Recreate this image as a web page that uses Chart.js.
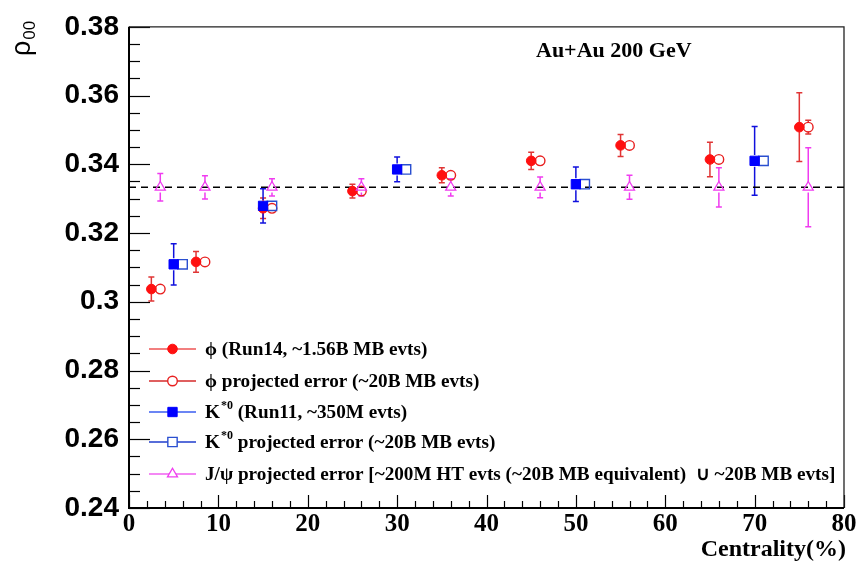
<!DOCTYPE html>
<html>
<head>
<meta charset="utf-8">
<script src="https://cdn.jsdelivr.net/npm/chart.js@4.4.1/dist/chart.umd.min.js"></script>
<style>
  html, body { margin: 0; padding: 0; background: #fff; }
  #wrap { width: 864px; height: 573px; position: relative; }
</style>
</head>
<body>
<div id="wrap"><canvas id="c" width="864" height="573"></canvas></div>
<script>
// ---- rho00 vs centrality, Au+Au 200 GeV ----

// phi meson, Run14 measurement
const phiCent = [2.5, 7.5, 15, 25, 35, 45, 55, 65, 75];
const phiRho  = [0.3037, 0.3116, 0.3272, 0.3322, 0.3368, 0.3410, 0.3455, 0.3414, 0.3508];
const phiErr  = [0.0035, 0.0030, 0.0030, 0.0020, 0.0022, 0.0025, 0.0032, 0.0050, 0.0100];

// phi meson, projected errors (same central values, shifted by 1%)
const phiProjCent = [3.5, 8.5, 16, 26, 36, 46, 56, 66, 76];
const phiProjRho  = [0.3037, 0.3116, 0.3272, 0.3322, 0.3368, 0.3410, 0.3455, 0.3414, 0.3508];
const phiProjErr  = [0.0008, 0.0008, 0.0010, 0.0008, 0.0008, 0.0008, 0.0009, 0.0010, 0.0020];

// K*0, Run11 measurement
const kCent = [5, 15, 30, 50, 70];
const kRho  = [0.3109, 0.3279, 0.3385, 0.3342, 0.3410];
const kErr  = [0.0060, 0.0050, 0.0036, 0.0050, 0.0100];

// K*0, projected errors
const kProjCent = [6, 16, 31, 51, 71];
const kProjRho  = [0.3109, 0.3279, 0.3385, 0.3342, 0.3410];
const kProjErr  = [0.0006, 0.0006, 0.0006, 0.0008, 0.0012];

// J/psi, projected errors
const jpsiCent = [3.5, 8.5, 16, 26, 36, 46, 56, 66, 76];
const jpsiRho  = [0.3333, 0.3333, 0.3333, 0.3333, 0.3333, 0.3333, 0.3333, 0.3333, 0.3333];
const jpsiErr  = [0.0040, 0.0034, 0.0025, 0.0025, 0.0025, 0.0030, 0.0035, 0.0057, 0.0115];

// reference level (no spin alignment)
const refLevel = 0.3333;

// axis ticks
const xTickValues = [0, 10, 20, 30, 40, 50, 60, 70, 80];
const xTickLabels = ['0', '10', '20', '30', '40', '50', '60', '70', '80'];
const yTickValues = [0.24, 0.26, 0.28, 0.30, 0.32, 0.34, 0.36, 0.38];
const yTickLabels = ['0.24', '0.26', '0.28', '0.3', '0.32', '0.34', '0.36', '0.38'];

// legend entries (rich text pieces: sup = superscript)
const legendLabels = [
  [{ t: 'ϕ (Run14, ~1.56B MB evts)' }],
  [{ t: 'ϕ projected error (~20B MB evts)' }],
  [{ t: 'K' }, { t: '*0', sup: true }, { t: ' (Run11, ~350M evts)' }],
  [{ t: 'K' }, { t: '*0', sup: true }, { t: ' projected error (~20B MB evts)' }],
  [{ t: 'J/ψ projected error [~200M HT evts (~20B MB equivalent)  ∪ ~20B MB evts]' }]
];

const RED = '#ff1010', RED_BAR = '#e03535';
const BLUE = '#0000ff', BLUE_BAR = '#1010dd', BLUE_OPEN = '#2a4fd0';
const MAG = '#f03cf0';

const pts = (xs, ys) => xs.map((x, i) => ({ x: x, y: ys[i] }));

const series = [
  { label: legendLabels[0], cent: phiCent, rho: phiRho, err: phiErr, style: 'circle', r: 4.8, fill: RED, stroke: RED, bar: RED_BAR, bw: 1, order: 3, legLine: '#ee5555', hollow: false },
  { label: legendLabels[1], cent: phiProjCent, rho: phiProjRho, err: phiProjErr, style: 'circle', r: 4.8, fill: 'rgba(255,255,255,0)', stroke: '#e82020', bar: RED_BAR, bw: 1.4, order: 4, legLine: '#d42a2a', hollow: true },
  { label: legendLabels[2], cent: kCent, rho: kRho, err: kErr, style: 'rect', r: 6.6, fill: BLUE, stroke: BLUE, bar: BLUE_BAR, bw: 1, order: 1, legLine: '#3a5cf0', hollow: false },
  { label: legendLabels[3], cent: kProjCent, rho: kProjRho, err: kProjErr, style: 'rect', r: 6.6, fill: 'rgba(255,255,255,0)', stroke: BLUE_OPEN, bar: BLUE_OPEN, bw: 1.4, order: 2, legLine: '#1f3ccc', hollow: true },
  { label: legendLabels[4], cent: jpsiCent, rho: jpsiRho, err: jpsiErr, style: 'triangle', r: 5.8, fill: 'rgba(255,255,255,0)', stroke: MAG, bar: MAG, bw: 1.3, order: 0, legLine: '#f060f0', hollow: true }
];

const datasets = series.map(s => ({
  type: 'scatter',
  data: pts(s.cent, s.rho),
  pointStyle: s.style,
  pointRadius: s.r,
  pointBackgroundColor: s.fill,
  pointBorderColor: s.stroke,
  pointBorderWidth: s.bw,
  order: s.order
}));

datasets.push({
  type: 'line',
  data: [{ x: 0, y: refLevel }, { x: 80, y: refLevel }],
  borderColor: '#000',
  borderWidth: 1.5,
  borderDash: [7, 5],
  pointRadius: 0,
  fill: false,
  order: 10
});

// vertical error bars with small end caps; the part under the marker is left out
const errorBars = {
  id: 'errorBars',
  beforeDatasetsDraw(chart) {
    const { ctx, scales: { x, y } } = chart;
    ctx.save();
    series.forEach(s => {
      ctx.strokeStyle = s.bar;
      ctx.lineWidth = 1.5;
      const gap = s.r * 0.9;
      s.cent.forEach((c, i) => {
        const px = x.getPixelForValue(c);
        const py = y.getPixelForValue(s.rho[i]);
        const top = y.getPixelForValue(s.rho[i] + s.err[i]);
        const bot = y.getPixelForValue(s.rho[i] - s.err[i]);
        if (py - top <= gap) return;
        ctx.beginPath();
        ctx.moveTo(px, top); ctx.lineTo(px, py - gap);
        ctx.moveTo(px, py + gap); ctx.lineTo(px, bot);
        ctx.moveTo(px - 3, top); ctx.lineTo(px + 3, top);
        ctx.moveTo(px - 3, bot); ctx.lineTo(px + 3, bot);
        ctx.stroke();
      });
    });
    ctx.restore();
  }
};

// frame with inward ticks
const frame = {
  id: 'frame',
  beforeDatasetsDraw(chart) {
    const { ctx, chartArea: a, scales: { x, y } } = chart;
    ctx.save();
    ctx.strokeStyle = '#000';
    ctx.lineWidth = 1.2;
    // y ticks: major every 0.02, minor every 0.005
    for (let k = 0; k <= 28; k++) {
      const v = 0.24 + k * 0.005;
      const py = Math.round(y.getPixelForValue(v)) + 0.5;
      const len = (k % 4 === 0) ? 21 : 11;
      ctx.beginPath(); ctx.moveTo(a.left, py); ctx.lineTo(a.left + len, py); ctx.stroke();
    }
    // x ticks: major every 10, minor every 2
    for (let k = 0; k <= 40; k++) {
      const v = k * 2;
      const px = Math.round(x.getPixelForValue(v)) + 0.5;
      const len = (k % 5 === 0) ? 13 : 7;
      ctx.beginPath(); ctx.moveTo(px, a.bottom); ctx.lineTo(px, a.bottom - len); ctx.stroke();
    }
    // frame
    ctx.strokeStyle = '#222';
    ctx.lineWidth = 1.3;
    ctx.beginPath();
    ctx.moveTo(a.left, a.top); ctx.lineTo(a.right, a.top); ctx.lineTo(a.right, a.bottom);
    ctx.stroke();
    ctx.strokeStyle = '#000';
    ctx.lineWidth = 2;
    ctx.beginPath();
    ctx.moveTo(a.left, a.top); ctx.lineTo(a.left, a.bottom); ctx.lineTo(a.right, a.bottom);
    ctx.stroke();
    ctx.restore();
  }
};

function drawRich(ctx, pieces, x, y, size, family) {
  let cx = x;
  pieces.forEach(p => {
    if (p.sup) {
      ctx.font = 'bold ' + Math.round(size * 0.62) + 'px ' + family;
      ctx.fillText(p.t, cx + 1, y - size * 0.38);
      cx += ctx.measureText(p.t).width + 1;
    } else {
      ctx.font = 'bold ' + size + 'px ' + family;
      ctx.fillText(p.t, cx, y);
      cx += ctx.measureText(p.t).width;
    }
  });
}

// titles, annotation and in-frame legend
const texts = {
  id: 'texts',
  afterDraw(chart) {
    const { ctx } = chart;
    const serif = '"Liberation Serif", "Times New Roman", serif';
    ctx.save();
    ctx.fillStyle = '#000';

    // y title: rho_00, rotated
    ctx.save();
    ctx.translate(30, 56);
    ctx.rotate(-Math.PI / 2);
    ctx.textBaseline = 'alphabetic';
    ctx.textAlign = 'left';
    ctx.font = '27px "Liberation Sans", Arial, sans-serif';
    ctx.fillText('ρ', 0, 0);
    const rw = ctx.measureText('ρ').width;
    ctx.font = '17px "Liberation Sans", Arial, sans-serif';
    ctx.fillText('00', rw + 1, 5);
    ctx.restore();

    // x title
    ctx.textAlign = 'right';
    ctx.textBaseline = 'alphabetic';
    ctx.font = 'bold 24px ' + serif;
    ctx.fillText('Centrality(%)', 846, 556);

    // annotation
    ctx.textAlign = 'left';
    ctx.font = 'bold 22px ' + serif;
    ctx.fillText('Au+Au 200 GeV', 536, 57);

    // legend
    const rows = [349, 381, 412, 442, 474];
    series.forEach((s, i) => {
      const yy = rows[i];
      ctx.strokeStyle = s.legLine;
      ctx.lineWidth = 1.5;
      ctx.beginPath(); ctx.moveTo(149, yy); ctx.lineTo(196, yy); ctx.stroke();
      ctx.fillStyle = s.hollow ? '#fff' : s.fill;
      ctx.strokeStyle = s.stroke;
      ctx.lineWidth = s.bw;
      Chart.helpers.drawPoint(ctx, { pointStyle: s.style, radius: s.r, borderWidth: s.bw, rotation: 0 }, 172.5, yy);
      ctx.fillStyle = '#000';
      ctx.textBaseline = 'middle';
      drawRich(ctx, s.label, 205, yy + 1, 19.2, serif);
    });
    ctx.restore();
  }
};

new Chart(document.getElementById('c'), {
  data: { datasets: datasets },
  options: {
    responsive: false,
    devicePixelRatio: 1,
    animation: false,
    layout: { padding: { top: 22, right: 20, left: 0, bottom: 0 } },
    plugins: { legend: { display: false }, tooltip: { enabled: false } },
    scales: {
      x: {
        type: 'linear',
        min: 0, max: 80,
        afterBuildTicks: s => { s.ticks = xTickValues.map(v => ({ value: v })); },
        afterFit: s => { s.height = 65; },
        grid: { display: false, drawTicks: false },
        border: { display: false },
        ticks: {
          autoSkip: false, maxRotation: 0, padding: 2, color: '#000',
          font: { family: '"Liberation Serif", "Times New Roman", serif', weight: 'bold', size: 25 },
          callback: (v, i) => xTickLabels[i]
        }
      },
      y: {
        type: 'linear',
        min: 0.24, max: 0.38,
        afterBuildTicks: s => { s.ticks = yTickValues.map(v => ({ value: v })); },
        afterFit: s => { s.width = 129; },
        grid: { display: false, drawTicks: false },
        border: { display: false },
        ticks: {
          autoSkip: false, padding: 10, color: '#000',
          font: { family: '"Liberation Sans", Arial, sans-serif', weight: 'bold', size: 28 },
          callback: (v, i) => yTickLabels[i]
        }
      }
    }
  },
  plugins: [errorBars, frame, texts]
});
</script>
</body>
</html>
